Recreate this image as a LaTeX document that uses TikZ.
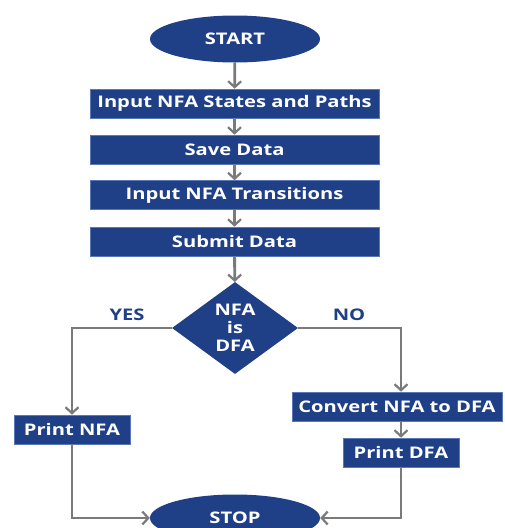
\documentclass[tikz,border=0pt]{standalone}
\usepackage{fontspec}
\setmainfont{Open Sans}
\newfontfamily\lblfont{Open Sans}[FakeStretch=1.26]
\usetikzlibrary{shapes.geometric,arrows.meta}
\definecolor{fc}{HTML}{1F3F87}
\definecolor{bc}{HTML}{5A78B8}
\definecolor{lc}{HTML}{7A7A7A}
\tikzset{
  txt/.style={font=\lblfont\bfseries\fontsize{16}{18}\selectfont},
  stepbox/.style={rectangle, fill=fc, draw=bc, line width=0.6pt, text=white,
    txt, inner sep=0pt},
  term/.style={ellipse, fill=fc, draw=none, text=white,
    txt, inner sep=0pt,
    minimum width=170pt, minimum height=47pt},
  dec/.style={diamond, fill=fc, draw=none, inner sep=0pt,
    minimum width=126pt, minimum height=92pt},
  lbl/.style={text=fc, txt},
  flow/.style={draw=lc, line width=2.8pt, -{Straight Barb[length=6pt,width=13pt,line width=2.2pt]}}
}
\begin{document}
\begin{tikzpicture}[x=1pt,y=-1pt]
\useasboundingbox (0,0) rectangle (504,528);
\node[term] (start) at (235,39) {START};
\node[stepbox, minimum width=289pt, minimum height=29pt] (b1) at (234.5,103.5) {Input NFA States and Paths};
\node[stepbox, minimum width=289pt, minimum height=29pt] (b2) at (234.5,149.5) {Save Data};
\node[stepbox, minimum width=289pt, minimum height=29pt] (b3) at (234.5,195) {Input NFA Transitions};
\node[stepbox, minimum width=289pt, minimum height=29pt] (b4) at (234.5,241.5) {Submit Data};
\node[dec] (d) at (235,328) {};
\node[text=white, txt, align=center, inner sep=0pt] (dt) at (235,328) {NFA\\is\\DFA};
\node[lbl] (yes) at (127,315) {YES};
\node[lbl] (no) at (349,315) {NO};
\node[stepbox, minimum width=116pt, minimum height=29pt] (pn) at (72,429.5) {Print NFA};
\node[stepbox, minimum width=210pt, minimum height=29pt] (cv) at (397,406.5) {Convert NFA to DFA};
\node[stepbox, minimum width=116pt, minimum height=29pt] (pd) at (401,452.5) {Print DFA};
\node[term] (stop) at (235,518) {STOP};
\draw[flow] (start) -- (b1);
\draw[flow] (b1) -- (b2);
\draw[flow] (b2) -- (b3);
\draw[flow] (b3) -- (b4);
\draw[flow] (b4) -- (d);
\draw[flow] (d.west) -| (pn.north);
\draw[flow] (d.east) -| (pd.north |- cv.north);
\draw[flow] (pd.north |- cv.south) -- (pd.north);
\draw[flow] (pn.south) |- (stop.west);
\draw[flow] (pd.south) |- (stop.east);
\end{tikzpicture}
\end{document}
